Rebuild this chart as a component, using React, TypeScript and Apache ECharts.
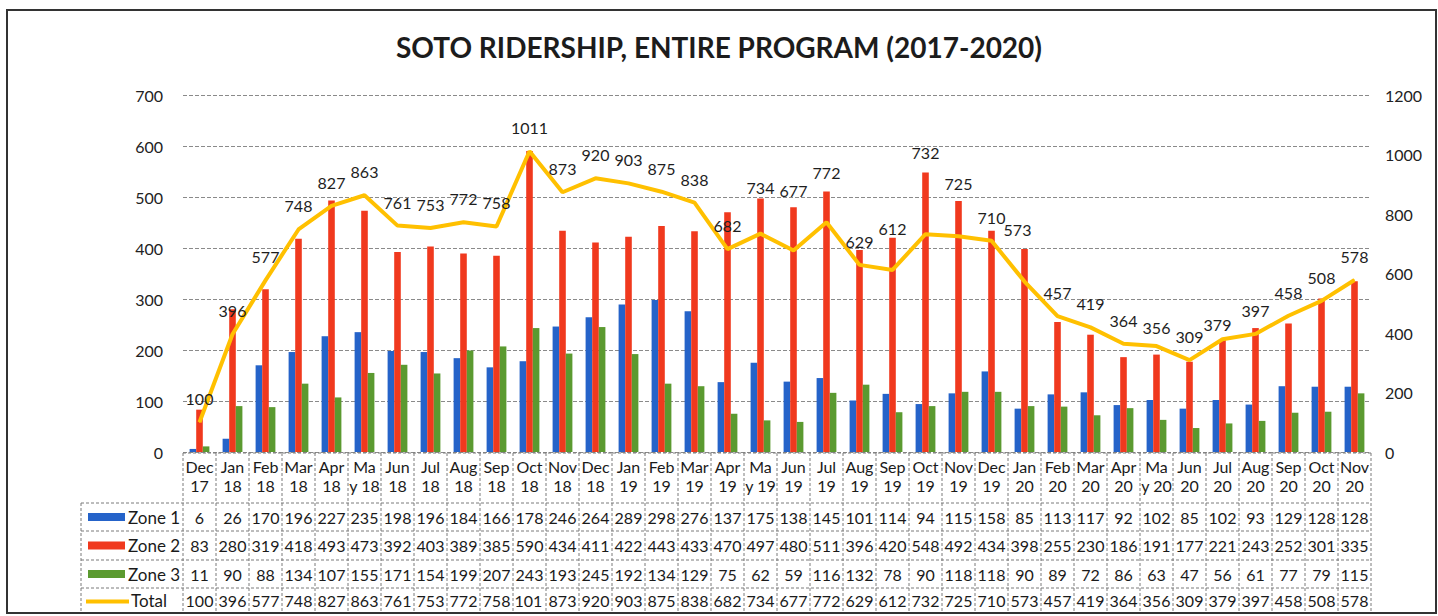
import React, { useEffect, useRef } from "react";
import * as echarts from "echarts";

const categories = [
  "Dec\n17", "Jan\n18", "Feb\n18", "Mar\n18", "Apr\n18", "Ma\ny 18", "Jun\n18", "Jul\n18", "Aug\n18", "Sep\n18",
  "Oct\n18", "Nov\n18", "Dec\n18", "Jan\n19", "Feb\n19", "Mar\n19", "Apr\n19", "Ma\ny 19", "Jun\n19", "Jul\n19",
  "Aug\n19", "Sep\n19", "Oct\n19", "Nov\n19", "Dec\n19", "Jan\n20", "Feb\n20", "Mar\n20", "Apr\n20", "Ma\ny 20",
  "Jun\n20", "Jul\n20", "Aug\n20", "Sep\n20", "Oct\n20", "Nov\n20",
];

const zone1 = [6, 26, 170, 196, 227, 235, 198, 196, 184, 166, 178, 246, 264, 289, 298, 276, 137, 175, 138, 145, 101, 114, 94, 115, 158, 85, 113, 117, 92, 102, 85, 102, 93, 129, 128, 128];
const zone2 = [83, 280, 319, 418, 493, 473, 392, 403, 389, 385, 590, 434, 411, 422, 443, 433, 470, 497, 480, 511, 396, 420, 548, 492, 434, 398, 255, 230, 186, 191, 177, 221, 243, 252, 301, 335];
const zone3 = [11, 90, 88, 134, 107, 155, 171, 154, 199, 207, 243, 193, 245, 192, 134, 129, 75, 62, 59, 116, 132, 78, 90, 118, 118, 90, 89, 72, 86, 63, 47, 56, 61, 77, 79, 115];
const total = [100, 396, 577, 748, 827, 863, 761, 753, 772, 758, 1011, 873, 920, 903, 875, 838, 682, 734, 677, 772, 629, 612, 732, 725, 710, 573, 457, 419, 364, 356, 309, 379, 397, 458, 508, 578];

const leftTicks = [0, 100, 200, 300, 400, 500, 600, 700];
const rightTicks = [0, 200, 400, 600, 800, 1000, 1200];

const TITLE = "SOTO RIDERSHIP, ENTIRE PROGRAM (2017-2020)";
const FONT = "Lato, 'Open Sans', sans-serif";

const BLUE = "#2563C9";
const RED = "#F0391E";
const GREEN = "#5B9A30";
const YELLOW = "#FFC000";

// label nudges for the total line (manually moved labels in the original)
const labelNudges: Record<number, [number, number]> = {
  17: [0, -23],
  18: [0, -37],
  19: [0, -26],
  21: [0, -18],
  22: [0, -58],
  23: [0, -29],
  25: [-7, -29],
  29: [0, 5],
  31: [-5, 9],
};

export default function App() {
  const ref = useRef<HTMLDivElement>(null);

  useEffect(() => {
    document.body.style.margin = "0";
    if (!ref.current) return;
    const chart = echarts.init(ref.current, null, { renderer: "svg" });

    const gridTop = 95;
    const gridBottom = 164;
    const gridLeft = 183;
    const gridRight = 67;

    const option: any = {
      animation: false,
      backgroundColor: "#ffffff",
      title: {
        text: TITLE,
        left: "center",
        top: 28,
        textStyle: { fontFamily: FONT, fontWeight: "bold", fontSize: 28, color: "#1c1c1c" },
      },
      grid: { top: gridTop, bottom: gridBottom, left: gridLeft, right: gridRight },
      xAxis: {
        type: "category",
        data: categories,
        axisLabel: { show: false },
        axisTick: { show: false },
        axisLine: { show: false },
      },
      yAxis: [
        {
          type: "value",
          min: 0,
          max: leftTicks[leftTicks.length - 1],
          interval: 100,
          axisLabel: { fontFamily: FONT, fontSize: 16, color: "#222", margin: 20, formatter: (v: number) => String(v) },
          axisLine: { show: false },
          axisTick: { show: false },
          splitLine: { lineStyle: { color: "#8a8a8a", type: [4, 2], width: 1 } },
        },
        {
          type: "value",
          min: 0,
          max: rightTicks[rightTicks.length - 1],
          interval: 200,
          axisLabel: { fontFamily: FONT, fontSize: 16, color: "#222", margin: 14, formatter: (v: number) => String(v) },
          axisLine: { show: false },
          axisTick: { show: false },
          splitLine: { show: false },
        },
      ],
      series: [
        { name: "Zone 1", type: "bar", data: zone1, itemStyle: { color: BLUE }, barGap: "0%", barCategoryGap: "40%" },
        { name: "Zone 2", type: "bar", data: zone2, itemStyle: { color: RED }, barGap: "0%", barCategoryGap: "40%" },
        { name: "Zone 3", type: "bar", data: zone3, itemStyle: { color: GREEN }, barGap: "0%", barCategoryGap: "40%" },
        {
          name: "Total",
          type: "line",
          yAxisIndex: 1,
          z: 5,
          symbol: "circle",
          symbolSize: 1,
          showSymbol: true,
          itemStyle: { color: YELLOW },
          lineStyle: { color: YELLOW, width: 4 },
          label: {
            show: true,
            position: "top",
            distance: 15,
            fontFamily: FONT,
            fontSize: 16,
            color: "#1e1e1e",
          },
          labelLayout: (p: any) => {
            const nudge = labelNudges[p.dataIndex];
            return nudge ? { dx: nudge[0], dy: nudge[1], hideOverlap: false } : { hideOverlap: false };
          },
          data: total,
        },
      ],
    };
    chart.setOption(option);

    // Build data table aligned with the category axis
    const c0 = chart.convertToPixel({ xAxisIndex: 0 }, 0) as number;
    const c1 = chart.convertToPixel({ xAxisIndex: 0 }, 1) as number;
    const w = c1 - c0;
    const left = c0 - w / 2;
    const n = categories.length;
    const right = left + n * w;
    const rowsY = [453, 503, 531, 560, 588, 613];
    const legendLeft = 81;
    const lineStyle = { stroke: "#7a7a7a", lineWidth: 1, lineDash: [3, 2] };
    const els: any[] = [];

    els.push({ type: "line", shape: { x1: left, y1: rowsY[0], x2: right, y2: rowsY[0] }, style: lineStyle });
    for (let r = 1; r < rowsY.length; r++) {
      els.push({ type: "line", shape: { x1: legendLeft, y1: rowsY[r], x2: right, y2: rowsY[r] }, style: lineStyle });
    }
    for (let i = 0; i <= n; i++) {
      const x = left + i * w;
      els.push({ type: "line", shape: { x1: x, y1: rowsY[0], x2: x, y2: rowsY[5] }, style: lineStyle });
    }
    els.push({ type: "line", shape: { x1: legendLeft, y1: rowsY[1], x2: legendLeft, y2: rowsY[5] }, style: lineStyle });

    const textStyle = (t: string, x: number, y: number, extra: any = {}) => ({
      type: "text",
      x,
      y,
      style: {
        text: t,
        fontFamily: FONT,
        fontSize: 16,
        fill: "#1a1a1a",
        align: "center",
        verticalAlign: "middle",
        ...extra,
      },
    });

    categories.forEach((c, i) => {
      const cx = left + (i + 0.5) * w;
      const parts = c.split("\n");
      els.push(textStyle(parts[0], cx, 466));
      els.push(textStyle(parts[1], cx, 485));
    });

    const rows = [
      { name: "Zone 1", data: zone1, color: BLUE, kind: "bar" },
      { name: "Zone 2", data: zone2, color: RED, kind: "bar" },
      { name: "Zone 3", data: zone3, color: GREEN, kind: "bar" },
      { name: "Total", data: total, color: YELLOW, kind: "line" },
    ];
    rows.forEach((row, r) => {
      const cy = (rowsY[r + 1] + rowsY[r + 2]) / 2;
      if (row.kind === "bar") {
        els.push({ type: "rect", shape: { x: 88, y: cy - 4, width: 37, height: 8 }, style: { fill: row.color } });
        els.push(textStyle(row.name, 128, cy, { align: "left", fontSize: 17 }));
      } else {
        els.push({ type: "line", shape: { x1: 86, y1: cy + 1, x2: 129, y2: cy + 1 }, style: { stroke: row.color, lineWidth: 4 } });
        els.push(textStyle(row.name, 131, cy, { align: "left", fontSize: 17 }));
      }
      row.data.forEach((v, i) => {
        const x0 = left + i * w;
        const s = String(v);
        els.push(
          textStyle(s, s.length > 3 ? x0 + 1.5 : x0 + w / 2, cy, {
            align: s.length > 3 ? "left" : "center",
            width: w - 3,
            overflow: "truncate",
            ellipsis: "",
          })
        );
      });
    });

    els.push({
      type: "rect",
      shape: { x: 7, y: 10, width: 1429, height: 603 },
      style: { fill: "none", stroke: "#333", lineWidth: 2 },
      silent: true,
    });

    chart.setOption({ graphic: { elements: els } });

    return () => chart.dispose();
  }, []);

  return <div ref={ref} style={{ width: 1438, height: 616 }} />;
}
